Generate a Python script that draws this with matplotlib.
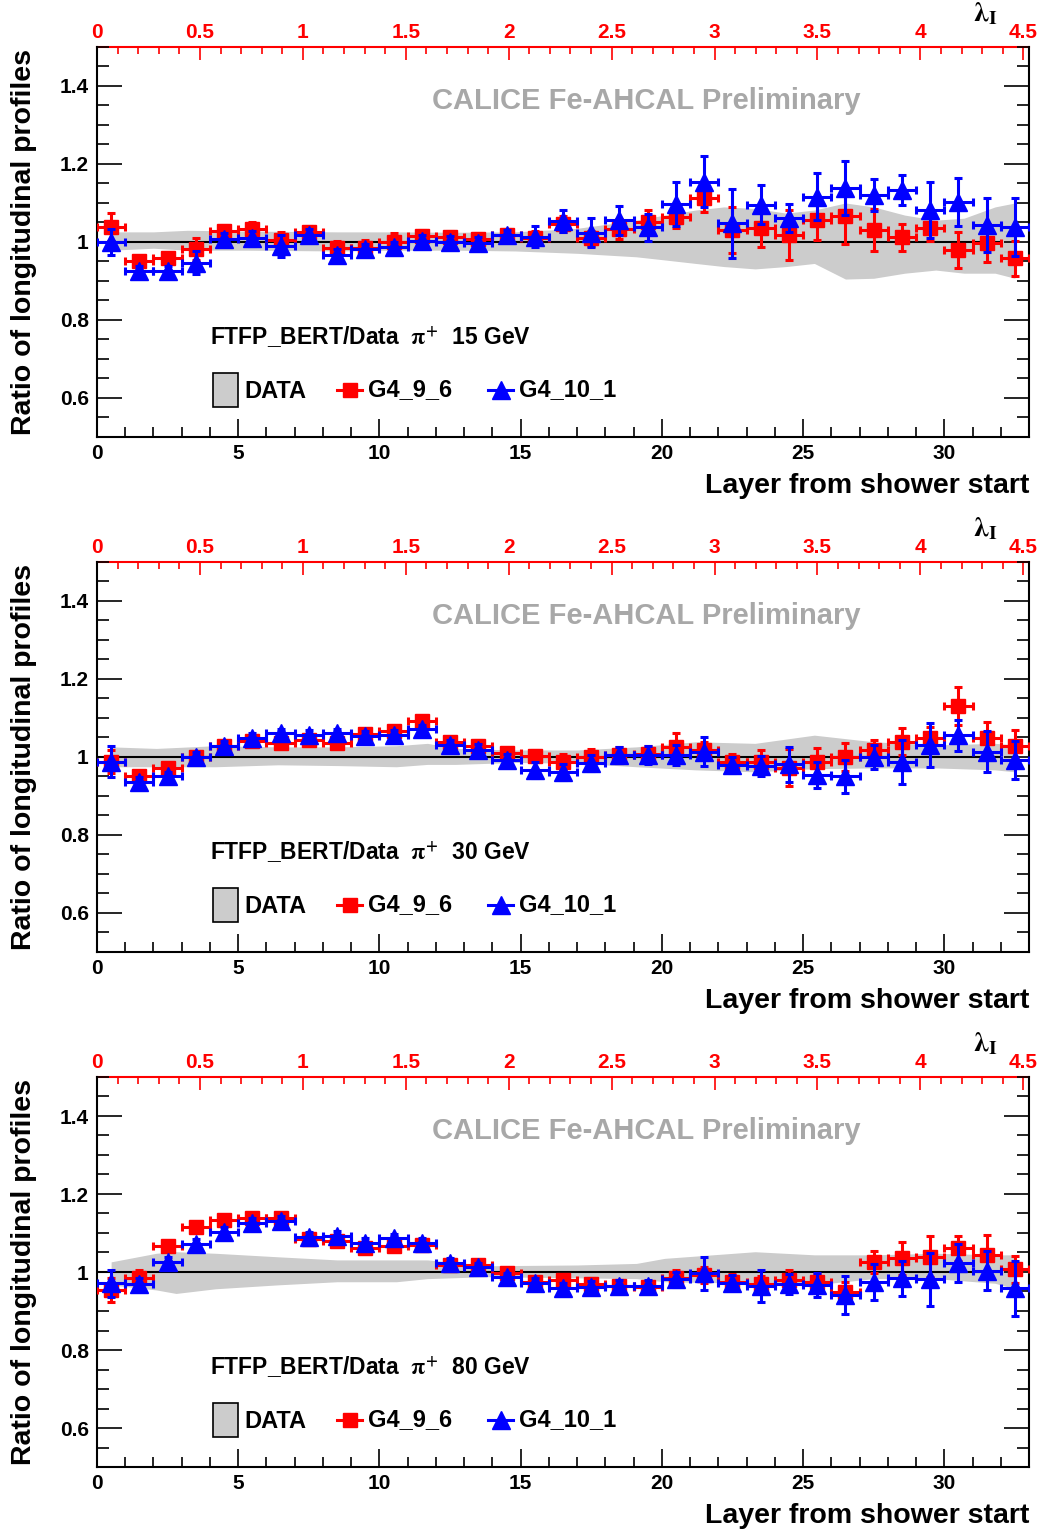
import numpy as np
import matplotlib.pyplot as plt
from matplotlib.ticker import MultipleLocator, FixedLocator, FuncFormatter
from matplotlib.patches import Rectangle

plt.rcParams['font.family'] = ['Liberation Sans', 'DejaVu Sans']
plt.rcParams['font.weight'] = 'bold'
plt.rcParams['mathtext.fontset'] = 'stix'

# layer bins (centres) and lambda_I per layer
layers = np.arange(33) + 0.5
lam_per_layer = 0.1372
energies = ['15', '30', '80']

# ---- 15 GeV ----
red_15 = [1.038, 0.950, 0.958, 0.981, 1.029, 1.033, 1.005, 1.026, 0.984, 0.985, 1.001,
          1.015, 1.012, 1.007, 1.018, 1.010, 1.046, 1.009, 1.033, 1.052, 1.065, 1.112,
          1.031, 1.035, 1.018, 1.056, 1.067, 1.031, 1.012, 1.035, 0.979, 0.997, 0.958]
red_15_err = [0.036, 0.015, 0.015, 0.028, 0.015, 0.017, 0.020, 0.015, 0.018, 0.020, 0.022,
              0.015, 0.015, 0.015, 0.015, 0.018, 0.020, 0.020, 0.025, 0.030, 0.030, 0.034,
              0.060, 0.049, 0.064, 0.050, 0.071, 0.053, 0.034, 0.032, 0.046, 0.049, 0.045]
blue_15 = [1.000, 0.926, 0.926, 0.947, 1.007, 1.009, 0.990, 1.018, 0.967, 0.981, 0.986,
           1.003, 1.000, 0.997, 1.017, 1.014, 1.054, 1.024, 1.056, 1.038, 1.097, 1.155,
           1.048, 1.095, 1.061, 1.116, 1.138, 1.121, 1.133, 1.082, 1.103, 1.044, 1.038]
blue_15_err = [0.033, 0.012, 0.012, 0.030, 0.015, 0.020, 0.028, 0.015, 0.015, 0.015, 0.015,
               0.015, 0.015, 0.015, 0.015, 0.027, 0.029, 0.037, 0.037, 0.035, 0.056, 0.066,
               0.088, 0.050, 0.036, 0.060, 0.070, 0.041, 0.038, 0.072, 0.062, 0.070, 0.075]
band_15_x = [0.5, 2.0, 3.2, 5.3, 8.5, 10.6, 12.7, 14.8, 17.0, 19.1, 20.1, 21.2, 22.2,
             23.3, 24.4, 25.4, 26.5, 27.5, 28.6, 29.7, 30.7, 31.8, 32.5]
band_15_hi = [1.026, 1.026, 1.030, 1.028, 1.026, 1.026, 1.025, 1.026, 1.035, 1.056, 1.069,
              1.082, 1.090, 1.086, 1.074, 1.082, 1.100, 1.090, 1.069, 1.056, 1.061, 1.090, 1.100]
band_15_lo = [0.979, 0.984, 0.979, 0.979, 0.977, 0.979, 0.979, 0.977, 0.971, 0.962, 0.954,
              0.945, 0.937, 0.931, 0.937, 0.945, 0.905, 0.907, 0.920, 0.928, 0.920, 0.920, 0.907]

# ---- 30 GeV ----
red_30 = [0.988, 0.950, 0.971, 1.001, 1.028, 1.040, 1.037, 1.044, 1.036, 1.059, 1.067,
          1.092, 1.039, 1.028, 1.009, 1.003, 0.988, 1.001, 1.005, 1.007, 1.026, 1.018,
          0.988, 0.988, 0.973, 0.988, 1.000, 1.018, 1.039, 1.048, 1.131, 1.048, 1.028]
red_30_err = [0.030, 0.012, 0.012, 0.012, 0.012, 0.012, 0.012, 0.012, 0.012, 0.012, 0.012,
              0.012, 0.012, 0.015, 0.015, 0.015, 0.020, 0.020, 0.020, 0.020, 0.036, 0.020,
              0.020, 0.030, 0.047, 0.035, 0.035, 0.025, 0.035, 0.030, 0.048, 0.043, 0.040]
blue_30 = [0.988, 0.937, 0.950, 1.000, 1.028, 1.049, 1.061, 1.057, 1.061, 1.054, 1.056,
           1.071, 1.031, 1.018, 0.992, 0.967, 0.962, 0.985, 1.005, 1.005, 1.005, 1.014,
           0.979, 0.977, 0.981, 0.954, 0.950, 1.000, 0.988, 1.031, 1.056, 1.014, 0.992]
blue_30_err = [0.040, 0.012, 0.012, 0.012, 0.012, 0.012, 0.012, 0.012, 0.012, 0.012, 0.012,
               0.012, 0.012, 0.015, 0.015, 0.020, 0.020, 0.020, 0.020, 0.022, 0.025, 0.036,
               0.020, 0.025, 0.045, 0.034, 0.043, 0.030, 0.056, 0.056, 0.040, 0.053, 0.049]
band_30_x = [0.5, 2.1, 4.2, 6.4, 8.5, 10.6, 11.7, 12.7, 14.8, 17.0, 19.1, 21.2, 23.3,
             25.4, 27.5, 29.7, 31.8, 32.5]
band_30_hi = [1.026, 1.022, 1.029, 1.026, 1.026, 1.029, 1.035, 1.022, 1.018, 1.018, 1.026,
              1.039, 1.035, 1.056, 1.039, 1.031, 1.035, 1.031]
band_30_lo = [0.975, 0.975, 0.975, 0.980, 0.978, 0.975, 0.981, 0.981, 0.986, 0.984, 0.975,
              0.967, 0.962, 0.970, 0.972, 0.972, 0.967, 0.962]

# ---- 80 GeV ----
red_80 = [0.954, 0.984, 1.067, 1.115, 1.133, 1.139, 1.138, 1.084, 1.080, 1.061, 1.067,
          1.069, 1.018, 1.018, 0.997, 0.975, 0.979, 0.969, 0.964, 0.961, 0.984, 0.992,
          0.975, 0.969, 0.979, 0.975, 0.950, 1.026, 1.035, 1.039, 1.061, 1.044, 1.007]
red_80_err = [0.030, 0.020, 0.012, 0.012, 0.012, 0.012, 0.012, 0.012, 0.012, 0.012, 0.012,
              0.012, 0.012, 0.012, 0.012, 0.012, 0.012, 0.015, 0.015, 0.015, 0.020, 0.020,
              0.020, 0.020, 0.025, 0.020, 0.025, 0.028, 0.043, 0.053, 0.032, 0.051, 0.035]
blue_80 = [0.971, 0.969, 1.026, 1.072, 1.103, 1.126, 1.132, 1.091, 1.092, 1.075, 1.086,
           1.075, 1.024, 1.012, 0.986, 0.973, 0.960, 0.962, 0.964, 0.964, 0.981, 0.997,
           0.973, 0.964, 0.969, 0.967, 0.941, 0.975, 0.984, 0.981, 1.024, 1.003, 0.958]
blue_80_err = [0.035, 0.015, 0.012, 0.012, 0.012, 0.012, 0.012, 0.012, 0.012, 0.012, 0.012,
               0.012, 0.012, 0.012, 0.012, 0.012, 0.012, 0.015, 0.015, 0.015, 0.020, 0.042,
               0.020, 0.041, 0.025, 0.030, 0.049, 0.046, 0.045, 0.067, 0.049, 0.050, 0.071]
band_80_x = [0.5, 2.1, 2.8, 4.2, 6.4, 8.5, 10.6, 11.7, 13.8, 17.0, 19.1, 20.1, 23.3,
             25.4, 27.5, 29.7, 31.8, 32.5]
band_80_hi = [1.026, 1.048, 1.052, 1.048, 1.039, 1.031, 1.031, 1.031, 1.016, 1.018, 1.022,
              1.035, 1.052, 1.044, 1.044, 1.048, 1.044, 1.044]
band_80_lo = [0.967, 0.954, 0.945, 0.957, 0.967, 0.975, 0.975, 0.983, 0.988, 0.985, 0.983,
              0.975, 0.971, 0.967, 0.983, 0.983, 0.971, 0.957]

panels = [
    (energies[0], red_15, red_15_err, blue_15, blue_15_err, band_15_x, band_15_hi, band_15_lo),
    (energies[1], red_30, red_30_err, blue_30, blue_30_err, band_30_x, band_30_hi, band_30_lo),
    (energies[2], red_80, red_80_err, blue_80, blue_80_err, band_80_x, band_80_hi, band_80_lo),
]

W, H = 1041, 1529
fig = plt.figure(figsize=(W / 100, H / 100), dpi=100)
gfmt = FuncFormatter(lambda v, p: '%g' % round(v, 3))

for k, (energy, red, red_err, blue, blue_err, bx, bhi, blo) in enumerate(panels):
    top_px = 47 + 515 * k
    ax = fig.add_axes([97 / W, 1 - (top_px + 390) / H, 932 / W, 390 / H])
    ax.set_xlim(0, 33)
    ax.set_ylim(0.5, 1.5)

    # data uncertainty band and reference line
    ax.fill_between(bx, blo, bhi, color='#cccccc', lw=0, zorder=1)
    ax.hlines(1, 0, 32, color='black', lw=1.5, zorder=2)

    ax.errorbar(layers, red, xerr=0.5, yerr=red_err, fmt='s', color='red', ms=10,
                elinewidth=2.2, capsize=2.8, capthick=2.2, zorder=3)
    ax.errorbar(layers, blue, xerr=0.5, yerr=blue_err, fmt='^', color='blue', ms=13.5,
                elinewidth=2.2, capsize=2.8, capthick=2.2, zorder=4)

    # axes styling (ROOT-like)
    for s in ['left', 'right', 'bottom']:
        ax.spines[s].set_linewidth(1.5)
    ax.spines['top'].set_visible(False)
    ax.xaxis.set_major_locator(FixedLocator(np.arange(0, 31, 5)))
    ax.xaxis.set_minor_locator(FixedLocator(np.arange(0, 34, 1)))
    ax.yaxis.set_major_locator(FixedLocator(np.arange(0.6, 1.41, 0.2)))
    ax.yaxis.set_minor_locator(FixedLocator(np.arange(0.5, 1.51, 0.05)))
    ax.xaxis.set_major_formatter(gfmt)
    ax.yaxis.set_major_formatter(gfmt)
    ax.tick_params(axis='x', which='both', direction='in', bottom=True, top=False,
                   labelsize=15, pad=5, width=1.2)
    ax.tick_params(axis='x', which='major', length=13)
    ax.tick_params(axis='x', which='minor', length=7)
    ax.tick_params(axis='y', which='both', direction='in', left=True, right=True,
                   labelsize=15, pad=6, width=1.2)
    ax.tick_params(axis='y', which='major', length=18)
    ax.tick_params(axis='y', which='minor', length=8.5)

    sec = ax.secondary_xaxis('top', functions=(lambda x: x * lam_per_layer,
                                                lambda l: l / lam_per_layer))
    sec.xaxis.set_major_locator(FixedLocator(np.arange(0, 4.51, 0.5)))
    sec.xaxis.set_minor_locator(FixedLocator(np.arange(0, 4.51, 0.1)))
    sec.xaxis.set_major_formatter(gfmt)
    sec.tick_params(which='both', direction='in', colors='red', labelsize=15, pad=3.5, width=1.2)
    sec.tick_params(which='major', length=9.5)
    sec.tick_params(which='minor', length=4.7)
    sec.spines['top'].set_color('red')
    sec.spines['top'].set_linewidth(1.5)
    ax.text(0.953, 1.085, r'$\mathrm{\lambda}_{\mathrm{I}}$', transform=ax.transAxes,
            fontsize=20, ha='center', va='center')

    ax.set_xlabel('Layer from shower start', fontsize=20.5, fontweight='bold', loc='right',
                  labelpad=7)
    ax.set_ylabel('Ratio of longitudinal profiles', fontsize=20.5, fontweight='bold')
    ax.yaxis.set_label_coords(-73 / 932, 0.5)
    ax.yaxis.label.set_va('center')

    ax.text(0.589, 0.862, 'CALICE Fe-AHCAL Preliminary', transform=ax.transAxes,
            fontsize=21, color='#a8a8a8', ha='center', va='center')
    ax.text(0.121, 0.254, r'FTFP_BERT/Data  $\mathrm{\pi}^{+}$  ' + energy + ' GeV',
            transform=ax.transAxes, fontsize=16.5, ha='left', va='center')

    # legend row
    ly = 0.121
    ax.add_patch(Rectangle((0.1245, 0.077), 0.0268, 0.087, transform=ax.transAxes,
                           fc='#cccccc', ec='black', lw=1.2, clip_on=False))
    ax.text(0.158, ly - 0.005, 'DATA', transform=ax.transAxes, fontsize=17, ha='left', va='center')
    ax.plot([0.2575, 0.2843], [ly, ly], color='red', lw=2.2, transform=ax.transAxes, clip_on=False)
    ax.plot([0.271], [ly], marker='s', color='red', ms=10.5, transform=ax.transAxes, clip_on=False)
    ax.text(0.291, ly, 'G4_9_6', transform=ax.transAxes, fontsize=17, ha='left', va='center')
    ax.plot([0.4195, 0.4464], [ly, ly], color='blue', lw=2.2, transform=ax.transAxes, clip_on=False)
    ax.plot([0.433], [ly], marker='^', color='blue', ms=13, transform=ax.transAxes, clip_on=False)
    ax.text(0.453, ly, 'G4_10_1', transform=ax.transAxes, fontsize=17, ha='left', va='center')

fig.savefig('out.png', dpi=100)
